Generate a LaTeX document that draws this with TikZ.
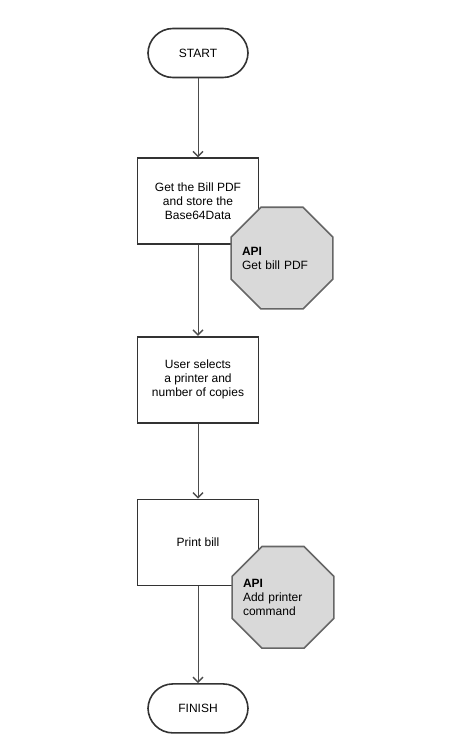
\documentclass[tikz,border=0pt]{standalone}
\usepackage{fontspec}
\setmainfont{Liberation Sans}
\usetikzlibrary{arrows,arrows.meta,shapes,positioning,calc}

\begin{document}
\begin{tikzpicture}[
    node distance=80pt,
    term/.style={rectangle, rounded corners=25pt, draw=black!80, line width=1.6pt, minimum width=100pt, minimum height=49pt, font=\fontsize{12}{14}\selectfont},
    box/.style={rectangle, draw=black!80, line width=1.6pt, minimum width=121pt, minimum height=86pt, align=center, font=\fontsize{12}{14}\selectfont},
    api/.style={regular polygon, regular polygon sides=8, draw=black!60, fill=black!15, line width=1.6pt, minimum size=110pt, inner sep=0pt},
    apitext/.style={text width=80pt, align=left, inner sep=0pt, font=\fontsize{12}{14}\selectfont},
    arrow/.style={-{Straight Barb[length=5pt,width=10pt,line width=1.4pt]}, line width=1pt, draw=black!70}
]
    \useasboundingbox (0,0) rectangle (450pt,-754pt);

    \node[term] (start) at (198pt,-53pt) {START};
    \node[box, below=79pt of start] (getbill) {Get the Bill PDF\\and store the\\Base64Data};
    \node[box, below=91pt of getbill] (select) {User selects\\a printer and\\number of copies};
    \node[box, below=75pt of select] (print) {Print bill};
    \node[term, below=97pt of print] (finish) {FINISH};

    \node[api, xshift=84pt, yshift=-57pt] (apibill) at (getbill) {};
    \node[apitext] (apibilltext) at (apibill) {\textbf{API}\\Get bill PDF};
    \node[api, xshift=85pt, yshift=-55pt] (apiprint) at (print) {};
    \node[apitext] (apiprinttext) at (apiprint) {\textbf{API}\\Add printer\\command};

    \draw[arrow] (start) -- (getbill);
    \draw[arrow] (getbill) -- (select);
    \draw[arrow] (select) -- (print);
    \draw[arrow] (print) -- (finish);
\end{tikzpicture}
\end{document}
